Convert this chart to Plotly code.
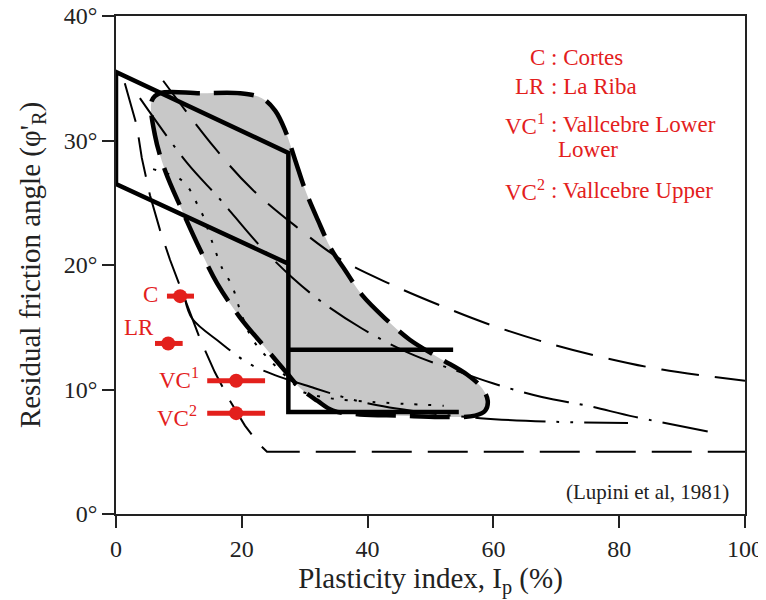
import plotly.graph_objects as go

# --- data (Ip in %, phi in degrees) ---
# Lupini et al. (1981) envelope: grey zone outline
ZONE_X = [5.7, 7.0, 13.4, 19.7, 23.2, 25.3, 26.9, 28.5, 30.1, 32.1, 34.3, 36.4, 39.1, 42.8, 46.7,
          51.5, 55.8, 58.2, 59.1, 58.7, 57.1, 51.5, 45.2, 38.8, 34.5, 32.0, 29.3, 27.2, 24.0,
          19.7, 16.1, 13.4, 10.5, 7.8, 6.2, 5.7]
ZONE_Y = [33.2, 33.8, 33.8, 33.8, 33.4, 32.4, 30.8, 28.4, 26.0, 23.6, 21.2, 19.6, 17.6, 15.7, 14.0,
          12.5, 11.2, 10.1, 9.1, 8.3, 7.9, 7.8, 7.9, 8.0, 8.3, 9.1, 10.1, 11.3, 13.2,
          15.8, 18.5, 21.2, 24.4, 27.6, 30.4, 33.2]

# thick solid box
BOX_X = [54.5, 27.4, 27.4, 0, 0, 27.4, None, 27.4, 53.6]
BOX_Y = [8.2, 8.2, 29.0, 35.5, 26.5, 20.1, None, 13.2, 13.2]

# long dash, upper curve
A_X = [7.5, 15.7, 21.6, 28.6, 35.9, 43.9, 52.3, 59.5, 69.5, 78.1, 86.8, 100]
A_Y = [34.8, 29.4, 26.1, 23.1, 20.4, 18.4, 16.6, 15.2, 13.6, 12.5, 11.6, 10.7]

# dash-dot curve
B_X = [3.8, 11.3, 16.5, 22.6, 28.0, 32.8, 39.1, 46.7, 53.6, 59.9, 67.7, 74.9, 82.5, 94.4]
B_Y = [33.4, 28.2, 25.3, 21.7, 19.0, 17.0, 14.9, 12.9, 11.6, 10.5, 9.4, 8.7, 7.8, 6.6]

# long dash, steep curve then flat at 5 deg
C_X = [1.4, 2.2, 3.3, 4.1, 5.4, 7.0, 8.6, 11.0, 13.4, 15.7, 18.1, 20.5, 22.6, 24.0, 100]
C_Y = [34.6, 33.2, 31.2, 28.6, 25.6, 22.8, 20.4, 17.2, 14.0, 11.4, 9.1, 7.1, 5.7, 5.0, 5.0]

# dash-dot-dot curve
D_X = [11.0, 12.1, 16.5, 21.8, 31.6, 39.9, 48.3, 57.9, 70.0, 81.4]
D_Y = [17.2, 15.7, 13.8, 11.9, 10.1, 8.9, 8.2, 7.7, 7.4, 7.3]

# dotted curve
E_X = [5.9, 7.8, 10.2, 11.8, 12.9, 13.8, 15.4, 17.0, 18.4, 19.7, 21.3, 22.6, 24.2, 26.1, 28.0,
       29.3, 34.0, 40.7, 52.1]
E_Y = [27.7, 27.4, 26.9, 26.0, 24.9, 24.0, 21.7, 19.6, 18.4, 16.4, 14.4, 13.4, 12.5, 11.5, 10.6,
       9.9, 9.3, 9.0, 8.7]

# sites
SITES = ["C", "LR", "VC<sup>1</sup>", "VC<sup>2</sup>"]
SITE_IP = [10.2, 8.3, 19.1, 19.1]
SITE_IP_MIN = [8.1, 6.2, 14.5, 14.5]
SITE_IP_MAX = [12.4, 10.6, 23.7, 23.7]
SITE_PHI = [17.5, 13.7, 10.7, 8.1]

KEY_LABELS = ["C", "LR", "VC<sup>1</sup>", "", "VC<sup>2</sup>"]
KEY_NAMES = [": Cortes", ": La Riba", ": Vallcebre Lower", "Lower", ": Vallcebre Upper"]

RED = "#e3201c"
FONT = "Liberation Serif"

fig = go.Figure()

# grey zone with thick dashed outline
fig.add_trace(go.Scatter(x=ZONE_X, y=ZONE_Y, mode="lines", fill="toself", fillcolor="#c8c8c8",
                         line=dict(color="black", width=4.5, dash="40px,14px", shape="spline"),
                         hoverinfo="skip", showlegend=False))

curves = [
    (A_X, A_Y, "38px,16px", "spline"),
    (B_X, B_Y, "46px,11px,3px,11px", "spline"),
    (C_X, C_Y, "40px,16px", "linear"),
    (D_X, D_Y, "70px,11px,3px,11px,3px,11px", "spline"),
    (E_X, E_Y, "3px,11px", "spline"),
]
for xs, ys, dash, shape in curves:
    fig.add_trace(go.Scatter(x=xs, y=ys, mode="lines",
                             line=dict(color="black", width=2, dash=dash, shape=shape),
                             hoverinfo="skip", showlegend=False))

fig.add_trace(go.Scatter(x=BOX_X, y=BOX_Y, mode="lines", line=dict(color="black", width=4.5),
                         hoverinfo="skip", showlegend=False))

# red site markers with Ip ranges
fig.add_trace(go.Scatter(
    x=SITE_IP, y=SITE_PHI, mode="markers",
    marker=dict(color=RED, size=14),
    error_x=dict(type="data", symmetric=False,
                 array=[hi - x for hi, x in zip(SITE_IP_MAX, SITE_IP)],
                 arrayminus=[x - lo for lo, x in zip(SITE_IP_MIN, SITE_IP)],
                 color=RED, thickness=5, width=0),
    hoverinfo="skip", showlegend=False))

label_pos = [(7.0, 17.6), (6.3, 15.0), (13.5, 10.9), (13.2, 7.8)]
for txt, (lx, ly) in zip(SITES, label_pos):
    fig.add_annotation(x=lx, y=ly, text=txt, showarrow=False, xanchor="right", yanchor="middle",
                       font=dict(family=FONT, size=23, color=RED))

key_rows = [36.7, 34.3, 31.3, 29.3, 26.0]
for lab, name, ky in zip(KEY_LABELS, KEY_NAMES, key_rows):
    if lab:
        fig.add_annotation(x=68.6, y=ky, text=lab, showarrow=False, xanchor="right",
                           yanchor="middle", font=dict(family=FONT, size=23, color=RED))
    fig.add_annotation(x=68.8 if lab else 70.0, y=ky, text=name, showarrow=False, xanchor="left",
                       yanchor="middle", font=dict(family=FONT, size=23, color=RED))

fig.add_annotation(x=97.8, y=1.8, text="(Lupini et al, 1981)", showarrow=False, xanchor="right",
                   yanchor="middle", font=dict(family=FONT, size=21, color="#222"))

axis_common = dict(showgrid=False, zeroline=False, showline=True, linecolor="#222", linewidth=1.5,
                   mirror=True, ticks="outside", ticklen=12, tickwidth=1.5, tickcolor="#222",
                   automargin=False, ticklabeloverflow="allow",
                   tickfont=dict(family=FONT, size=24, color="#222"))

# page body adds ~8px offset, so the figure is sized to fit the 766x600 window
fig.update_layout(
    width=758, height=592,
    margin=dict(l=108, r=21, t=8, b=86),
    plot_bgcolor="white", paper_bgcolor="white",
    font=dict(family=FONT),
    xaxis=dict(range=[0, 100], dtick=20, **axis_common,
               title=dict(text="Plasticity index, I<sub>p</sub> (%)", standoff=0,
                          font=dict(family=FONT, size=29, color="#222"))),
    yaxis=dict(range=[0, 40], dtick=10, ticksuffix="°", **axis_common,
               title=dict(text="Residual friction angle (φ'<sub>R</sub>)", standoff=15,
                          font=dict(family=FONT, size=29, color="#222"))),
)

fig.write_html("out.html")
